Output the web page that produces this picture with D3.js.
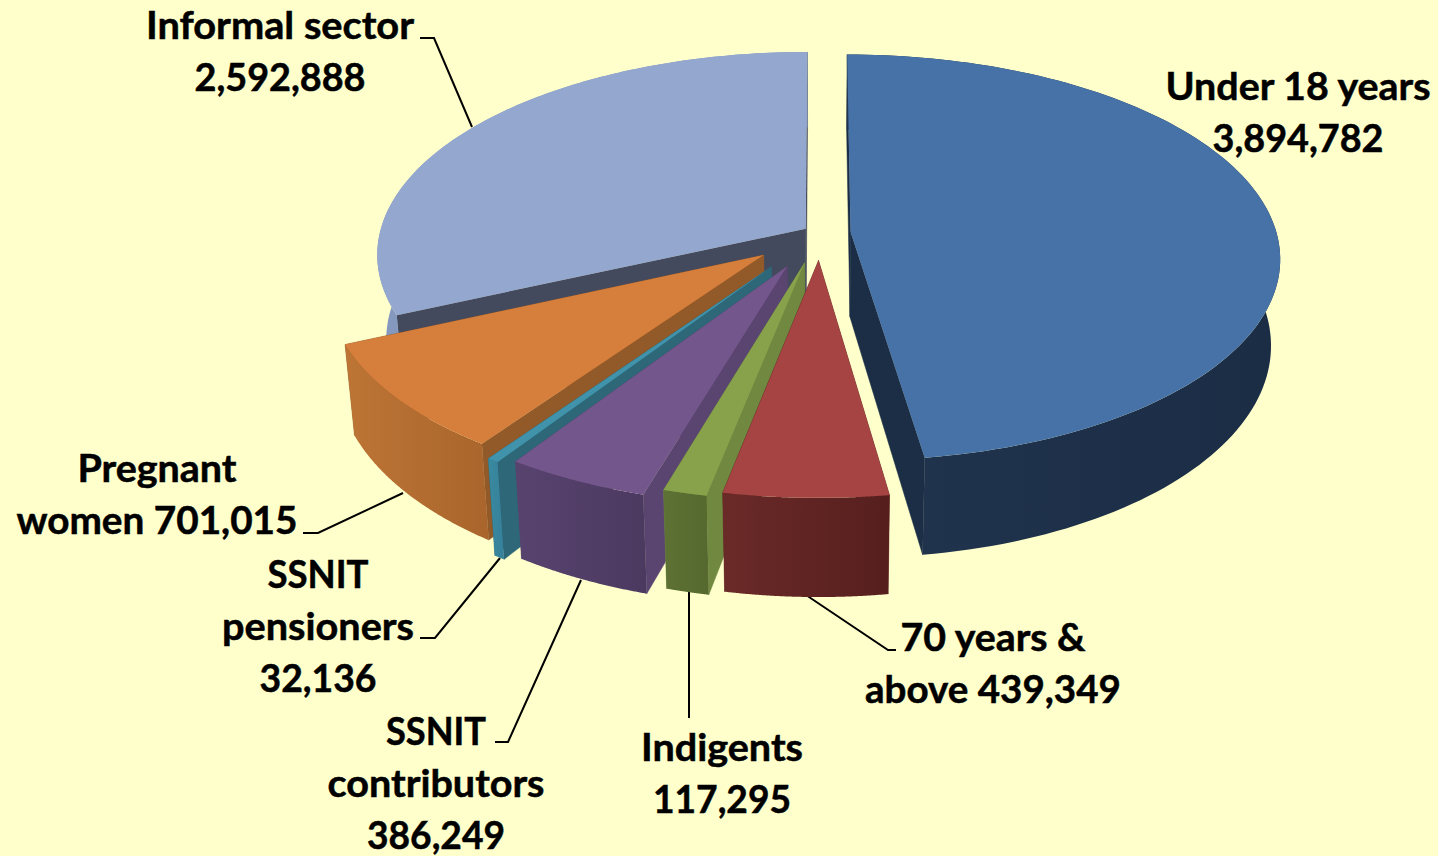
<!DOCTYPE html>
<html><head><meta charset="utf-8">
<script src="https://cdn.jsdelivr.net/npm/d3@7"></script>
<style>html,body{margin:0;padding:0;background:#FFFFCC;overflow:hidden}svg{display:block}
text{font-family:Lato,"Open Sans",sans-serif;font-weight:700;font-size:38px;fill:#000;stroke:#000;stroke-width:.5px;text-anchor:middle}</style>
</head><body><svg id="c" width="1438" height="856"></svg>
<script>
// Data
const categories = ["Under 18 years","70 years & above","Indigents","SSNIT contributors","SSNIT pensioners","Pregnant women","Informal sector"];
const values = [3894782,439349,117295,386249,32136,701015,2592888];
// Styles: top face, cut wall, outer wall left/right
const topColors  = ["#4672A7","#A54442","#87A24B","#73568B","#4093AA","#D67E3B","#94A8CF"];
const cutColors  = ["#1B2E46","#5E2423","#718840","#5A4570","#2D6778","#925A29","#444A5E"];
const wallLeft   = ["#21344E","#6A2A28","#5E7235","#57436E","#398AA0","#BD7535","#8599BE"];
const wallRight  = ["#1B2D45","#561F1E","#55682E","#4C3960","#36809A","#A9652C","#8599BE"];
const explode    = [0.072,0.135,0.15,0.18,0.2,0.17,0.04];
const drawOrder  = [6,0,5,4,3,2,1];
// Label layout
const labelLines = [["Under 18 years","{v}"],["70 years &","above {v}"],["Indigents","{v}"],["SSNIT","contributors","{v}"],["SSNIT","pensioners","{v}"],["Pregnant","women {v}"],["Informal sector","{v}"]];
const labelWidths = [[265,171],[185,256],[162,138],[100,217,138],[101,192,117],[159,281],[268,171]];
const labelCenter = [1298,993,722,436,318,157,280];
const labelTop = [100,651,761,745,588,482,39];
const lineGap = 52;
const leaderPts = [null,[[806,595],[888,650],[896,650]],[[689,590],[689,718]],[[581,580],[508,742],[495,742]],[[500,558],[435,638],[420,638]],[[403,493],[318,533],[303,533]],[[472,127],[434,38],[420,38]]];

const cx=820, cy=233, R=426, A=200, P=0.126, H0=85, shrink=0.98;
const sx=d3.scaleLinear().domain([0,1]).range([cx,cx+R]);
const sy=d3.scaleLinear().domain([0,1]).range([cy,cy+A]);
const fmt=d3.format(",");
const svg=d3.select("#c");
const defs=svg.append("defs");
const arcs=d3.pie().sort(null).value(d=>d)(values);

function proj(u,v){const s=1/(1-P*v);return {x:sx(u*s),y:sy(v*s),s};}
function low(p){return {x:cx+(p.x-cx)*shrink,y:p.y+H0*p.s};}
const line=d3.line().x(d=>d.x).y(d=>d.y);

function slice(i){
  const a=arcs[i], mid=(a.startAngle+a.endAngle)/2, e=explode[i];
  const ou=e*Math.sin(mid), ov=-e*Math.cos(mid);
  const at=t=>proj(ou+Math.sin(t),ov-Math.cos(t));
  const apex=proj(ou,ov);
  const rim=d3.range(0,121).map(k=>at(a.startAngle+(a.endAngle-a.startAngle)*k/120));
  return {apex,rim};
}
const g=svg.append("g");
// leaders under the pie
leaderPts.forEach(p=>{ if(p) g.append("path").attr("d",line(p.map(q=>({x:q[0],y:q[1]})))).attr("fill","none").attr("stroke","#000").attr("stroke-width",2);});

drawOrder.forEach(i=>{
  const {apex,rim}=slice(i);
  const first=rim[0], last=rim[rim.length-1];
  const quad=(a,b)=>line([a,b,low(b),low(a)])+"Z";
  const grp=g.append("g");
  grp.append("path").attr("d",quad(apex,last)).attr("fill",cutColors[i]).attr("stroke",cutColors[i]).attr("stroke-width",.5);
  grp.append("path").attr("d",quad(apex,first)).attr("fill",cutColors[i]).attr("stroke",cutColors[i]).attr("stroke-width",.5);
  const id="w"+i;
  const lg=defs.append("linearGradient").attr("id",id);
  lg.append("stop").attr("offset","0").attr("stop-color",wallLeft[i]);
  lg.append("stop").attr("offset","1").attr("stop-color",wallRight[i]);
  grp.append("path").attr("d",line(rim.concat(rim.slice().reverse().map(low)))+"Z").attr("fill",`url(#${id})`);
  grp.append("path").attr("d",line([apex].concat(rim))+"Z").attr("fill",topColors[i]);
});

labelLines.forEach((ls,i)=>{
  ls.forEach((s,k)=>svg.append("text").attr("x",labelCenter[i]).attr("y",labelTop[i]+k*lineGap)
    .attr("textLength",labelWidths[i][k]).attr("lengthAdjust","spacingAndGlyphs")
    .text(s.replace("{v}",fmt(values[i]))));
});
</script></body></html>
